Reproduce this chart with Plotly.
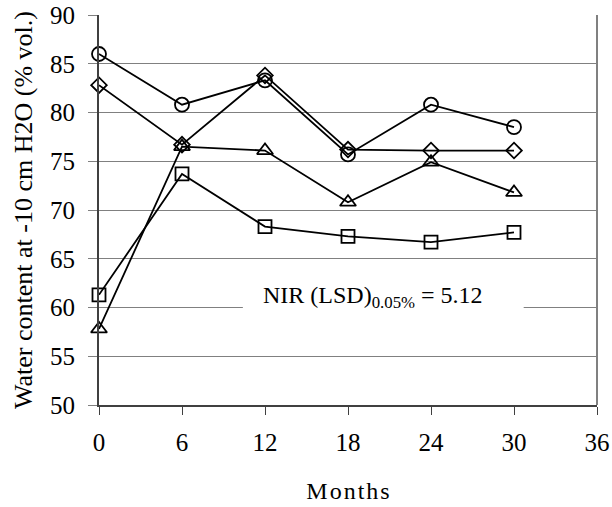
import plotly.graph_objects as go

months = [0, 6, 12, 18, 24, 30]
circle_vals = [86.0, 80.8, 83.3, 75.7, 80.8, 78.5]
diamond_vals = [82.8, 76.7, 83.8, 76.2, 76.1, 76.1]
triangle_vals = [57.8, 76.5, 76.1, 70.8, 74.9, 71.8]
square_vals = [61.3, 73.7, 68.3, 67.3, 66.7, 67.7]

x_ticks = [0, 6, 12, 18, 24, 30, 36]
y_ticks = [50, 55, 60, 65, 70, 75, 80, 85, 90]

FONT = "Liberation Serif, Times New Roman, serif"
HS = "\u200a"

fig = go.Figure()
series = [
    (circle_vals, "circle-open", 14),
    (diamond_vals, "diamond-open", 12),
    (triangle_vals, "triangle-up-open", 14),
    (square_vals, "square-open", 13),
]
for vals, sym, size in series:
    fig.add_trace(go.Scatter(
        x=months, y=vals, mode="lines+markers",
        line=dict(color="black", width=1.8),
        marker=dict(symbol=sym, size=size, color="black",
                    line=dict(color="black", width=1.8)),
        showlegend=False, cliponaxis=False,
    ))

# white box hiding part of the 60 gridline behind the LSD label
fig.add_shape(type="rect", xref="x", yref="y", x0=10.4, x1=30.7, y0=57.5, y1=63.5,
              fillcolor="white", line=dict(width=0), layer="between")

fig.add_annotation(
    x=19.8, y=61.1, xref="x", yref="y",
    text="NIR (LSD)<sub>0.05%</sub> = 5.12",
    showarrow=False,
    font=dict(family=FONT, size=24, color="black"),
)

fig.update_xaxes(
    range=[0, 36], tickvals=x_ticks, ticktext=[str(v) for v in x_ticks],
    showgrid=False, showline=True, linecolor="#404040", linewidth=2,
    ticks="outside", ticklen=8, tickcolor="#404040", tickwidth=1,
    ticklabelstandoff=6, automargin=False,
    tickfont=dict(family=FONT, size=25, color="black"),
    title=dict(text=HS.join("Months"), font=dict(family=FONT, size=24, color="black"), standoff=27),
    zeroline=False, mirror=False,
)
fig.update_yaxes(
    range=[50, 90], tickvals=y_ticks,
    showgrid=True, gridcolor="#808080", gridwidth=1,
    showline=True, linecolor="#404040", linewidth=2,
    ticks="outside", ticklen=9, tickcolor="#808080", tickwidth=1,
    ticklabelstandoff=8, automargin=False,
    tickfont=dict(family=FONT, size=25, color="black"),
    title=dict(text="Water content at -10 cm H2O (% vol.)",
               font=dict(family=FONT, size=26, color="black"), standoff=10),
    zeroline=False,
)

fig.add_shape(type="line", xref="paper", yref="paper", x0=1, x1=1, y0=0, y1=1,
              line=dict(color="#808080", width=2))

fig.update_layout(
    width=612, height=507,
    margin=dict(l=99, r=15, t=15, b=102, autoexpand=False),
    plot_bgcolor="white", paper_bgcolor="white",
    font=dict(family=FONT),
)

fig.write_html("out.html")
